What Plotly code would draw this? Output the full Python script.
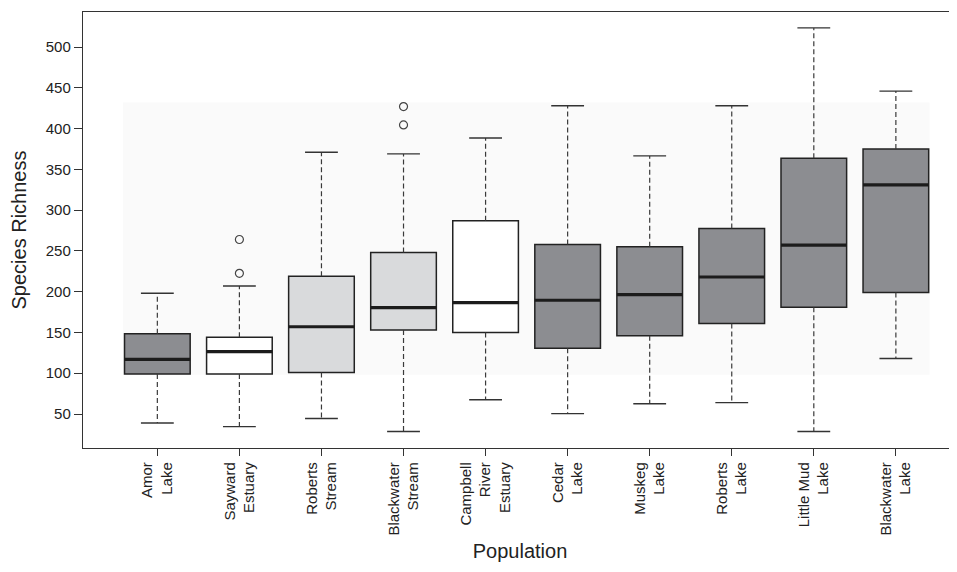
import plotly.graph_objects as go

# ---- data ----
categories = ["Amor<br>Lake", "Sayward<br>Estuary", "Roberts<br>Stream", "Blackwater<br>Stream",
              "Campbell<br>River<br>Estuary", "Cedar<br>Lake", "Muskeg<br>Lake", "Roberts<br>Lake",
              "Little Mud<br>Lake", "Blackwater<br>Lake"]
whisker_low = [39, 34.5, 44.5, 28.5, 67.5, 50.5, 62.5, 64, 28.5, 118]
q1_vals = [99, 99, 101, 153, 150, 130.5, 146, 161, 181, 199]
median_vals = [117, 126.5, 157, 180.5, 186.5, 189.5, 196.5, 218, 257, 331]
q3_vals = [148.5, 144, 219, 248, 287, 258, 255, 277.5, 363.5, 375]
whisker_high = [198, 207, 371, 369, 388.5, 428, 366.5, 428, 523.5, 446]
outliers = [[], [222.5, 264], [], [404.5, 427], [], [], [], [], [], []]
fill_group = ["dark", "white", "light", "light", "white", "dark", "dark", "dark", "dark", "dark"]
y_ticks = [50, 100, 150, 200, 250, 300, 350, 400, 450, 500]

fill_colors = {"dark": "#8c8d91", "white": "#ffffff", "light": "#d9dadc"}
positions = list(range(1, len(categories) + 1))
BOX_W = 0.8
CAP_HALF = 0.2
FONT = "Arial, Liberation Sans, sans-serif"

fig = go.Figure()

# dashed whiskers
wx, wy = [], []
for p, lo, a, b, hi in zip(positions, whisker_low, q1_vals, q3_vals, whisker_high):
    wx += [p, p, None, p, p, None]
    wy += [b, hi, None, a, lo, None]
fig.add_trace(go.Scatter(x=wx, y=wy, mode="lines", hoverinfo="skip",
                         line=dict(color="#3a3a3a", width=1.2, dash="5px,3px"), showlegend=False))

# whisker caps
cx, cy = [], []
for p, lo, hi in zip(positions, whisker_low, whisker_high):
    cx += [p - CAP_HALF, p + CAP_HALF, None, p - CAP_HALF, p + CAP_HALF, None]
    cy += [hi, hi, None, lo, lo, None]
fig.add_trace(go.Scatter(x=cx, y=cy, mode="lines", hoverinfo="skip",
                         line=dict(color="#333333", width=1.4), showlegend=False))

# boxes
for p, a, m, b, g in zip(positions, q1_vals, median_vals, q3_vals, fill_group):
    fig.add_trace(go.Box(x=[p], q1=[a], median=[m], q3=[b], lowerfence=[a], upperfence=[b],
                         width=BOX_W, fillcolor=fill_colors[g], whiskerwidth=0,
                         line=dict(color="#222222", width=1.5), showlegend=False,
                         boxpoints=False))

# thick medians
mx, my = [], []
for p, m in zip(positions, median_vals):
    mx += [p - BOX_W / 2, p + BOX_W / 2, None]
    my += [m, m, None]
fig.add_trace(go.Scatter(x=mx, y=my, mode="lines", hoverinfo="skip",
                         line=dict(color="#1c1c1c", width=3.2), showlegend=False))

# outliers
ox, oy = [], []
for p, outs in zip(positions, outliers):
    for v in outs:
        ox.append(p)
        oy.append(v)
fig.add_trace(go.Scatter(x=ox, y=oy, mode="markers", showlegend=False,
                         marker=dict(symbol="circle-open", size=8, color="#444444",
                                     line=dict(width=1.2))))

# faint background panel
fig.add_shape(type="rect", xref="x", yref="y", x0=0.58, x1=10.41, y0=98, y1=432,
              fillcolor="#fafafa", line=dict(width=0), layer="below")

# the page body adds an 8px offset, so the figure is sized 8px smaller
fig.update_layout(
    width=949, height=564,
    margin=dict(l=75, r=0, t=4, b=124),
    paper_bgcolor="white", plot_bgcolor="white",
    font=dict(family=FONT, color="#333333"),
    boxmode="overlay",
    showlegend=False,
)
fig.update_xaxes(
    range=[0.094, 10.745], tickmode="array", tickvals=positions, ticktext=categories,
    tickangle=-90, ticks="outside", ticklen=7, tickwidth=1.2, tickcolor="#333333",
    tickfont=dict(size=15, family=FONT, color="#222222"),
    showline=True, linecolor="#333333", linewidth=1.4, mirror=True,
    showgrid=False, zeroline=False, automargin=False,
    title=dict(text="Population", font=dict(size=20, family=FONT, color="#222222"), standoff=9),
)
fig.update_yaxes(
    range=[8.3, 543], tickmode="array", tickvals=y_ticks,
    ticks="outside", ticklen=8, tickwidth=1.2, tickcolor="#333333",
    tickfont=dict(size=15, family=FONT, color="#222222"),
    showline=True, linecolor="#333333", linewidth=1.4,
    showgrid=False, zeroline=False, automargin=False,
    title=dict(text="Species Richness", font=dict(size=20, family=FONT, color="#222222"), standoff=22),
)

fig.write_html("out.html")
